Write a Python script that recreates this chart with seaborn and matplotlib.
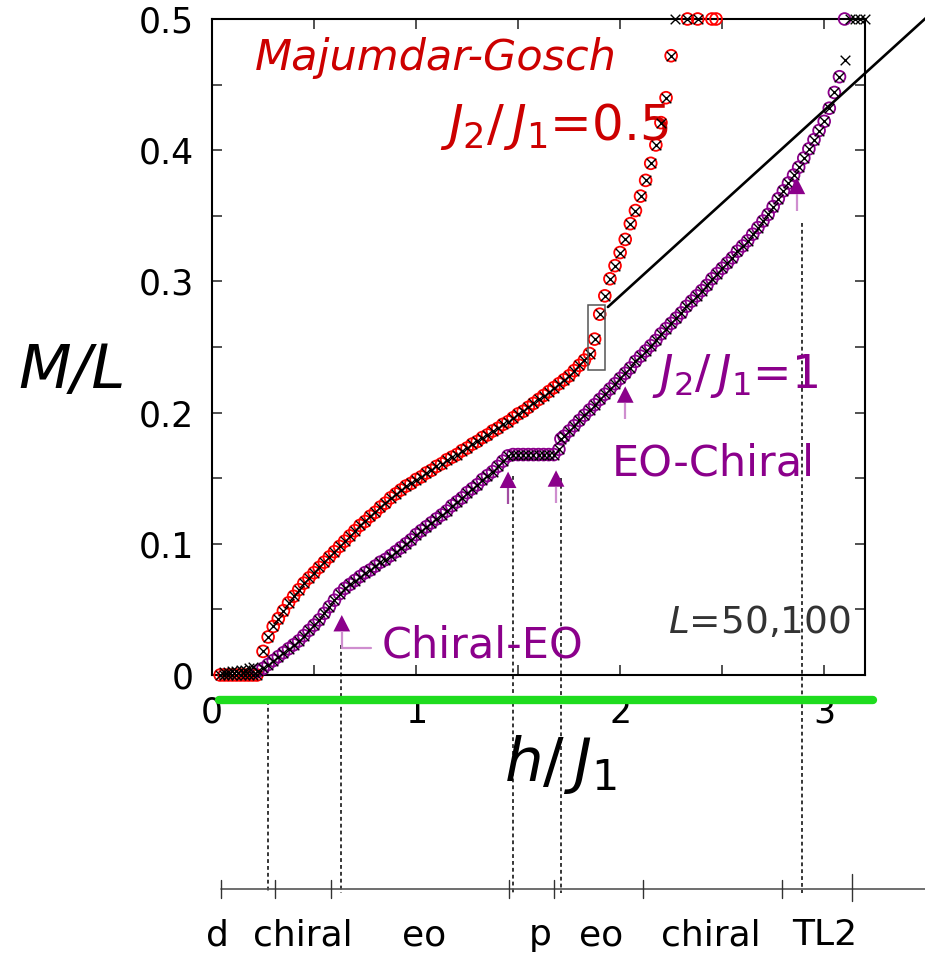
import matplotlib
matplotlib.use("Agg")
import matplotlib.pyplot as plt
from matplotlib.patches import Rectangle
from matplotlib.ticker import MultipleLocator
import seaborn as sns
import pandas as pd

# ---------------- data ----------------
# J2/J1 = 0.5 (Majumdar-Gosch): shared values for L=50 (circles) and L=100 (crosses)
mg_h = [0.04, 0.06, 0.08, 0.10, 0.12, 0.14, 0.16, 0.18, 0.20, 0.22,
        0.25, 0.275, 0.30, 0.325, 0.35, 0.375, 0.40, 0.425, 0.45, 0.475,
        0.50, 0.525, 0.55, 0.575, 0.60, 0.625, 0.65, 0.675, 0.70, 0.725,
        0.75, 0.775, 0.80, 0.825, 0.85, 0.875, 0.90, 0.925, 0.95, 0.975,
        1.00, 1.025, 1.05, 1.075, 1.10, 1.125, 1.15, 1.175, 1.20, 1.225,
        1.25, 1.275, 1.30, 1.325, 1.35, 1.375, 1.40, 1.425, 1.45, 1.475,
        1.50, 1.525, 1.55, 1.575, 1.60, 1.625, 1.65, 1.675, 1.70, 1.725,
        1.75, 1.775, 1.80, 1.825, 1.85, 1.875, 1.90, 1.925, 1.95, 1.975,
        2.00, 2.025, 2.05, 2.075, 2.10, 2.125, 2.15, 2.175, 2.20, 2.225,
        2.25]
mg_m = [0, 0, 0, 0, 0, 0, 0, 0, 0, 0,
        0.018, 0.029, 0.037, 0.043, 0.049, 0.055, 0.060, 0.065, 0.070, 0.074,
        0.078, 0.082, 0.086, 0.090, 0.094, 0.098, 0.102, 0.106, 0.110, 0.114,
        0.117, 0.121, 0.124, 0.128, 0.131, 0.135, 0.138, 0.141, 0.144, 0.146,
        0.149, 0.151, 0.154, 0.156, 0.159, 0.161, 0.164, 0.166, 0.168, 0.171,
        0.173, 0.176, 0.178, 0.181, 0.183, 0.186, 0.188, 0.191, 0.193, 0.196,
        0.199, 0.201, 0.204, 0.207, 0.210, 0.213, 0.216, 0.219, 0.222, 0.225,
        0.228, 0.232, 0.236, 0.240, 0.245, 0.256, 0.275, 0.289, 0.302, 0.312,
        0.322, 0.332, 0.344, 0.354, 0.365, 0.377, 0.390, 0.404, 0.421, 0.440,
        0.472]
mg50_top_h = [2.33, 2.38, 2.45, 2.47]
mg50_top_m = [0.5, 0.5, 0.5, 0.5]
mg100_top_h = [2.27, 2.33, 2.38]
mg100_top_m = [0.5, 0.5, 0.5]

# J2/J1 = 1
j1_h = [0.225, 0.25, 0.275, 0.30, 0.325, 0.35, 0.375, 0.40, 0.425, 0.45,
        0.475, 0.50, 0.525, 0.55, 0.575, 0.60, 0.625, 0.65, 0.675, 0.70,
        0.725, 0.75, 0.775, 0.80, 0.825, 0.85, 0.875, 0.90, 0.925, 0.95,
        0.975, 1.00, 1.025, 1.05, 1.075, 1.10, 1.125, 1.15, 1.175, 1.20,
        1.225, 1.25, 1.275, 1.30, 1.325, 1.35, 1.375, 1.40, 1.425, 1.45,
        1.475, 1.50, 1.525, 1.55, 1.575, 1.60, 1.625, 1.65, 1.675, 1.70,
        1.71, 1.725, 1.75, 1.775, 1.80, 1.825, 1.85, 1.875, 1.90, 1.925,
        1.95, 1.975, 2.00, 2.025, 2.05, 2.075, 2.10, 2.125, 2.15, 2.175,
        2.20, 2.225, 2.25, 2.275, 2.30, 2.325, 2.35, 2.375, 2.40, 2.425,
        2.45, 2.475, 2.50, 2.525, 2.55, 2.575, 2.60, 2.625, 2.65, 2.675,
        2.70, 2.725, 2.75, 2.775, 2.80, 2.825, 2.85, 2.875, 2.90, 2.925,
        2.95, 2.975, 3.00, 3.025, 3.05, 3.075]
j1_m = [0.003, 0.005, 0.008, 0.011, 0.014, 0.017, 0.020, 0.023, 0.026, 0.030,
        0.034, 0.038, 0.042, 0.047, 0.052, 0.057, 0.062, 0.066, 0.069, 0.072,
        0.075, 0.078, 0.080, 0.083, 0.086, 0.088, 0.091, 0.094, 0.097, 0.100,
        0.103, 0.107, 0.110, 0.113, 0.116, 0.119, 0.122, 0.125, 0.129, 0.132,
        0.135, 0.139, 0.142, 0.145, 0.149, 0.152, 0.155, 0.159, 0.163, 0.167,
        0.168, 0.168, 0.168, 0.168, 0.168, 0.168, 0.168, 0.168, 0.168, 0.172,
        0.180, 0.182, 0.186, 0.190, 0.194, 0.198, 0.202, 0.206, 0.210, 0.214,
        0.218, 0.222, 0.226, 0.230, 0.234, 0.239, 0.243, 0.247, 0.251, 0.255,
        0.260, 0.264, 0.268, 0.272, 0.276, 0.281, 0.285, 0.289, 0.293, 0.297,
        0.302, 0.306, 0.310, 0.314, 0.318, 0.323, 0.327, 0.331, 0.336, 0.341,
        0.346, 0.351, 0.357, 0.363, 0.369, 0.375, 0.381, 0.387, 0.394, 0.401,
        0.408, 0.415, 0.422, 0.432, 0.444, 0.456]
j1_50_top_h = [3.10]
j1_50_top_m = [0.5]
j1_100_extra_h = [0.06, 0.08, 0.10, 0.12, 0.14, 0.16, 0.18, 0.20,
                  3.10, 3.125, 3.15, 3.175, 3.20]
j1_100_extra_m = [0.002, 0.002, 0.003, 0.003, 0.004, 0.004, 0.005, 0.006,
                  0.469, 0.5, 0.5, 0.5, 0.5]

# guide line and highlighted box
guide_h = [1.94, 3.50]
guide_m = [0.2805, 0.501]
box_h = [1.843, 1.926]
box_m = [0.2325, 0.282]

# arrows (tip positions) marking transitions
arrow_h = [0.636, 1.451, 1.686, 2.025, 2.866]
arrow_tip = [0.0457, 0.155, 0.156, 0.220, 0.379]

# dashed guide lines down to the phase bar
dash_h = [0.272, 0.632, 1.476, 1.711, 2.892]
dash_top = [-0.02, 0.0229, 0.152, 0.150, 0.3445]

# phase bar below
phase_ticks = [0.044, 0.309, 0.583, 1.456, 1.676, 2.113, 2.794]
phase_big_tick = [3.137]
phase_names = ["d", "chiral", "eo", "p", "eo", "chiral", "TL2"]
phase_pos = [0.025, 0.446, 1.039, 1.608, 1.907, 2.446, 3.0]

y_ticks = [0, 0.1, 0.2, 0.3, 0.4, 0.5]
y_tick_labels = ["0", "0.1", "0.2", "0.3", "0.4", "0.5"]
x_ticks = [0, 1, 2, 3]
x_tick_labels = ["0", "1", "2", "3"]

# ---------------- style ----------------
sns.set_theme(style="ticks")
plt.rcParams['font.family'] = ['DejaVu Sans']
plt.rcParams['mathtext.fontset'] = 'dejavusans'
for k in ['text.color', 'axes.labelcolor', 'xtick.color', 'ytick.color',
          'xtick.labelcolor', 'ytick.labelcolor']:
    plt.rcParams[k] = 'black'

RED = '#ff0000'
RED_TXT = '#cc0000'
PUR = '#8b008b'
PUR_MID = '#a24ca2'
PUR_LIGHT = '#cf8ecf'

W, H = 925, 956
fig = plt.figure(figsize=(W / 100, H / 100), dpi=100)
fig.patch.set_facecolor('white')
ax = fig.add_axes([212 / W, 1 - 675 / H, (865 - 212) / W, (675 - 19) / H])
ax.set_facecolor('white')

mg50 = pd.DataFrame({'h': mg_h + mg50_top_h, 'm': mg_m + mg50_top_m})
mg100 = pd.DataFrame({'h': mg_h + mg100_top_h, 'm': mg_m + mg100_top_m})
j150 = pd.DataFrame({'h': j1_h + j1_50_top_h, 'm': j1_m + j1_50_top_m})
j1100 = pd.DataFrame({'h': j1_h + j1_100_extra_h, 'm': j1_m + j1_100_extra_m})

circ_kw = dict(marker='o', s=72, facecolors='none', linewidth=1.3,
               clip_on=False, legend=False)
cross_kw = dict(marker='x', s=48, color='black', linewidth=1.0,
                clip_on=False, legend=False)

sns.scatterplot(data=mg50, x='h', y='m', ax=ax, edgecolor=RED, color=RED,
                zorder=3, **circ_kw)
sns.scatterplot(data=j150, x='h', y='m', ax=ax, edgecolor=PUR, color=PUR,
                zorder=3, **circ_kw)
sns.scatterplot(data=mg100, x='h', y='m', ax=ax, zorder=4, **cross_kw)
sns.scatterplot(data=j1100, x='h', y='m', ax=ax, zorder=4, **cross_kw)

# guide line & box
ax.plot(guide_h, guide_m, color='black', lw=1.9, clip_on=False, zorder=5)
ax.add_patch(Rectangle((box_h[0], box_m[0]), box_h[1] - box_h[0],
                       box_m[1] - box_m[0], fill=False, ec='#555555',
                       lw=1.1, zorder=5))

# arrows
HEAD = 0.0125
stem_cols = [PUR_LIGHT, PUR_MID, PUR_LIGHT, PUR_LIGHT, PUR_LIGHT]
for h, t, c in zip(arrow_h, arrow_tip, stem_cols):
    ax.fill([h - 0.041, h, h + 0.041], [t - HEAD, t, t - HEAD],
            color=PUR, lw=0, zorder=6, clip_on=False)
    ax.plot([h, h], [t - HEAD, t - 2 * HEAD], color=c, lw=1.6, zorder=6,
            clip_on=False, solid_capstyle='butt')
# hook of the Chiral-EO arrow
ax.plot([arrow_h[0], arrow_h[0] + 0.145],
        [arrow_tip[0] - 2 * HEAD, arrow_tip[0] - 2 * HEAD],
        color=PUR_LIGHT, lw=1.6, zorder=6, clip_on=False)

# dashed lines
for h, t in zip(dash_h, dash_top):
    ax.plot([h, h], [t, -0.166], ls=(0, (2.5, 2)), color='black', lw=1.1,
            clip_on=False, zorder=2)

# green bar
ax.plot([0.034, 3.24], [-0.019, -0.019], color='#1edc1e', lw=6,
        solid_capstyle='round', clip_on=False, zorder=10)

# phase bar
PY = -0.163
ax.plot([phase_ticks[0], 3.495], [PY, PY], color='#555555', lw=1.2,
        clip_on=False)
for p in phase_ticks:
    ax.plot([p, p], [PY + 0.0068, PY - 0.0068], color='#333333', lw=1.0,
            clip_on=False)
for p in phase_big_tick:
    ax.plot([p, p], [PY + 0.0115, PY - 0.0095], color='#333333', lw=1.0,
            clip_on=False)
for name, p in zip(phase_names, phase_pos):
    ax.text(p, -0.2058, name, ha='center', va='baseline', fontsize=26,
            color='black', clip_on=False)

# texts
ax.text(0.211, 0.461, 'Majumdar-Gosch', color=RED_TXT, fontsize=31,
        style='italic', ha='left', va='baseline')
ax.text(1.118, 0.4078, r'$\mathit{J_{2}}/\,\mathit{J_{1}}$=0.5',
        color=RED_TXT, fontsize=36, ha='left', va='baseline')
ax.text(2.157, 0.2187, r'$\mathit{J_{2}}/\,\mathit{J_{1}}$=1', color=PUR,
        fontsize=33, ha='left', va='baseline')
ax.text(1.96, 0.1524, 'EO-Chiral', color=PUR, fontsize=31,
        ha='left', va='baseline')
ax.text(0.833, 0.0137, 'Chiral-EO', color=PUR, fontsize=31,
        ha='left', va='baseline')
ax.text(2.235, 0.032, r'$\mathit{L}$=50,100', color='#333333', fontsize=27,
        ha='left', va='baseline')

# axes
ax.set_xlim(0, 3.2)
ax.set_ylim(0, 0.5)
ax.set_xticks(x_ticks, labels=x_tick_labels)
ax.set_yticks(y_ticks, labels=y_tick_labels)
ax.xaxis.set_minor_locator(MultipleLocator(0.5))
ax.yaxis.set_minor_locator(MultipleLocator(0.05))
ax.tick_params(which='both', direction='in', top=True, right=True,
               length=7.2, width=1.1, color='#222222')
ax.tick_params(axis='x', labelsize=25, pad=15, labelcolor='black')
ax.tick_params(axis='y', labelsize=25, pad=13, labelcolor='black')
for s in ax.spines.values():
    s.set_linewidth(1.5)
    s.set_color('black')

ax.set_xlabel(r'$\mathit{h}/\,\mathit{J_{1}}$', fontsize=44, color='black')
ax.xaxis.label.set_va('center')
ax.xaxis.set_label_coords(0.533, -0.137)
ax.set_ylabel('M/L', fontsize=44, style='italic', rotation=0, color='black')
ax.yaxis.label.set_va('center')
ax.yaxis.label.set_ha('center')
ax.yaxis.set_label_coords(-0.214, 0.4634)

fig.savefig('out.png', dpi=100, facecolor='white')
